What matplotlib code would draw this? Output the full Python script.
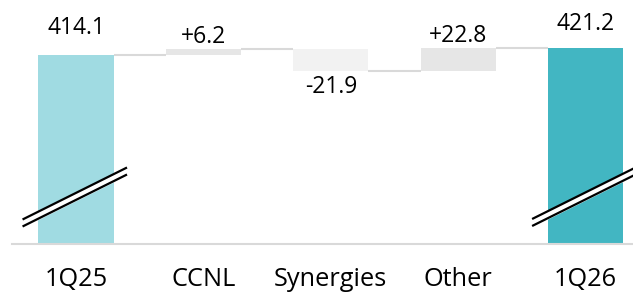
import matplotlib
matplotlib.use("Agg")
import matplotlib.pyplot as plt
import numpy as np

plt.rcParams['font.family'] = ['Open Sans', 'DejaVu Sans']

categories = ["1Q25", "CCNL", "Synergies", "Other", "1Q26"]
start_value = 414.1
deltas = [6.2, -21.9, 22.8]
end_value = 421.2

total_colors = ["#a0dbe2", "#42b6c2"]
delta_colors = ["#e6e6e6", "#f2f2f2", "#e6e6e6"]
connector_color = "#d9d9d9"


def break_mark(ax, xc, yc):
    """Draw a double slash over a bar to show the axis is cut"""
    dx = np.array([-0.42, 0.40])
    dy = np.array([-26, 26])
    gap = 7
    xs = xc + dx
    ax.fill_between(xs, yc + dy - gap, yc + dy, color="white", zorder=4, clip_on=False)
    ax.plot(xs, yc + dy, color="black", lw=1.6, zorder=5, clip_on=False, solid_capstyle="butt")
    ax.plot(xs, yc + dy - gap, color="black", lw=1.6, zorder=5, clip_on=False, solid_capstyle="butt")


def main():
    fig = plt.figure(figsize=(6.33, 2.94), dpi=100)
    ax = fig.add_axes([0, 50 / 294, 1, 244 / 294])
    x = np.arange(len(categories))
    width = 0.59
    y_min, y_max = 225.1, 469.1
    val_fs = 16.5

    # totals
    ax.bar(x[0], start_value - y_min, width, bottom=y_min, color=total_colors[0], zorder=2)
    ax.bar(x[-1], end_value - y_min, width, bottom=y_min, color=total_colors[1], zorder=2)

    # deltas
    level = start_value
    levels = [start_value]
    for i, d in enumerate(deltas):
        ax.bar(x[i + 1], d, width, bottom=level, color=delta_colors[i], zorder=2)
        level += d
        levels.append(level)
    levels.append(end_value)

    # connectors
    for i in range(len(categories) - 1):
        ax.plot([x[i] + width / 2, x[i + 1] - width / 2], [levels[i], levels[i]],
                color=connector_color, lw=1.5, zorder=1, solid_capstyle="butt")

    # labels
    ax.annotate("{:.1f}".format(start_value), xy=(x[0], start_value), xytext=(0, 15),
                textcoords="offset points", ha="center", va="baseline", fontsize=val_fs)
    ax.annotate("{:.1f}".format(end_value), xy=(x[-1], end_value), xytext=(0, 13),
                textcoords="offset points", ha="center", va="baseline", fontsize=val_fs)
    for i, d in enumerate(deltas):
        top = max(levels[i], levels[i + 1])
        bot = min(levels[i], levels[i + 1])
        if d >= 0:
            ax.annotate("+{:.1f}".format(d), xy=(x[i + 1], top), xytext=(0, 4),
                        textcoords="offset points", ha="center", va="baseline", fontsize=val_fs)
        else:
            ax.annotate("{:.1f}".format(d), xy=(x[i + 1], bot), xytext=(0, -3),
                        textcoords="offset points", ha="center", va="top", fontsize=val_fs)

    # baseline
    ax.plot([-0.5, 5], [y_min, y_min], color=connector_color, lw=1.5, zorder=3, clip_on=False)

    break_mark(ax, x[0], 275.6)
    break_mark(ax, x[-1], 276.1)

    ax.set_xlim(-0.597, 4.372)
    ax.set_ylim(y_min, y_max)
    ax.set_xticks(x)
    ax.set_xticklabels(categories, fontsize=18.3)
    ax.tick_params(axis="x", length=0, pad=16.5)
    ax.set_yticks([])
    for s in ax.spines.values():
        s.set_visible(False)
    ax.patch.set_alpha(0)

    fig.savefig("out.png", dpi=100)


if __name__ == '__main__':
    main()
